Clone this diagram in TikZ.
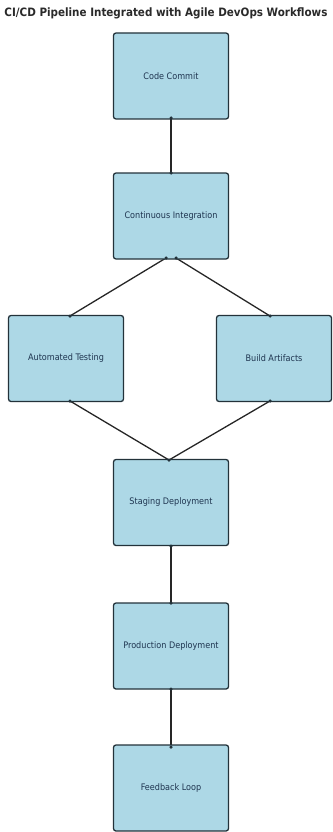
\documentclass[tikz,border=0pt]{standalone}
\usepackage{fontspec}
\setmainfont{DejaVu Sans Condensed}
\newfontfamily\titlefont{DejaVu Sans Condensed Bold}
\begin{document}
\begin{tikzpicture}[x=1pt,y=-1pt]
\definecolor{stagefill}{HTML}{ADD8E6}
\definecolor{stageline}{HTML}{23323A}
\definecolor{stagetext}{HTML}{1F3550}
\definecolor{titletext}{HTML}{2A2A2A}
\tikzset{
  stage/.style={draw=stageline, line width=1.3pt, fill=stagefill,
    rounded corners=2.5pt, minimum width=115pt, minimum height=86pt, inner sep=0pt,
    font=\fontsize{9}{10}\selectfont, text=stagetext},
  link/.style={draw=black!85, line width=1.3pt},
  tipdot/.style={fill=stageline, circle, inner sep=0pt, minimum size=3.5pt}}
\useasboundingbox (0,0) rectangle (332,832);

% title
\node[text=titletext] (title) at (166,13) {\titlefont\resizebox{323pt}{!}{CI/CD Pipeline Integrated with Agile DevOps Workflows}};

% connector end points
\coordinate (ccB) at (171,118);
\coordinate (ciT) at (171,173);
\coordinate (ciBL) at (166,258);
\coordinate (ciBR) at (176,258);
\coordinate (atT) at (70,316);
\coordinate (baT) at (270,316);
\coordinate (atB) at (70,401);
\coordinate (baB) at (270,401);
\coordinate (stT) at (169,460);
\coordinate (stB) at (171,546);
\coordinate (prT) at (171,603);
\coordinate (prB) at (171,689);
\coordinate (fbT) at (171,747);

% connectors, drawn beneath the stages
\draw[link] (ccB) -- (ciT);
\draw[link] (ciBL) -- (atT);
\draw[link] (ciBR) -- (baT);
\draw[link] (atB) -- (stT);
\draw[link] (baB) -- (stT);
\draw[link] (stB) -- (prT);
\draw[link] (prB) -- (fbT);

% stages
\node[stage] (cc) at (171,76) {Code Commit};
\node[stage] (ci) at (171,216) {Continuous Integration};
\node[stage] (at) at (66,358.5) {Automated Testing};
\node[stage] (ba) at (274,358.5) {Build Artifacts};
\node[stage] (st) at (171,502.5) {Staging Deployment};
\node[stage] (pr) at (171,646) {Production Deployment};
\node[stage] (fb) at (171,788) {Feedback Loop};

% small end marks of the connectors
\foreach \p in {ccB,ciT,ciBL,ciBR,atT,baT,atB,baB,stT,stB,prT,prB,fbT}
  \node[tipdot] (m\p) at (\p) {};
\end{tikzpicture}
\end{document}
